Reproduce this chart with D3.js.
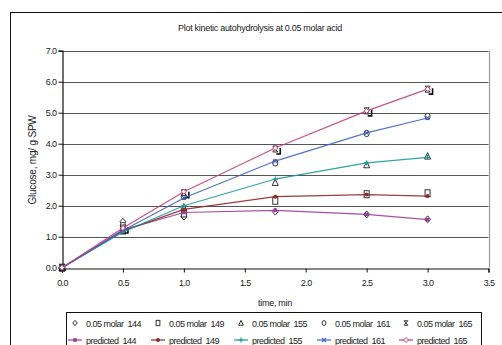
<!DOCTYPE html>
<html><head><meta charset="utf-8">
<script src="https://cdn.jsdelivr.net/npm/d3@7"></script>
<style>
body{margin:0;background:#fff;}
svg text{font-family:"Liberation Sans",Arial,sans-serif;fill:#222;}
</style></head>
<body><svg id="c" width="502" height="345"></svg>
<script>
const times = [0, 0.5, 1.0, 1.75, 2.5, 3.0];
const seriesNames = ["144", "149", "155", "161", "165"];
const observed144 = [0, 1.48, 1.65, 1.81, 1.72, 1.56];
const observed149 = [0, 1.2, 1.75, 2.16, 2.37, 2.4];
const observed155 = [0, 1.2, 1.95, 2.75, 3.32, 3.6];
const observed161 = [0, 1.36, 2.3, 3.38, 4.33, 4.88];
const observed165 = [0, 1.28, 2.42, 3.83, 5.06, 5.76];
const predicted144 = [0, 1.22, 1.78, 1.85, 1.72, 1.55];
const predicted149 = [0, 1.18, 1.88, 2.29, 2.36, 2.31];
const predicted155 = [0, 1.15, 2.0, 2.86, 3.38, 3.56];
const predicted161 = [0, 1.2, 2.25, 3.44, 4.35, 4.83];
const predicted165 = [0, 1.28, 2.45, 3.86, 5.06, 5.76];
const xTicks = [0, 0.5, 1.0, 1.5, 2.0, 2.5, 3.0, 3.5];
const yTicks = [0, 1, 2, 3, 4, 5, 6, 7];

const observed = [observed144, observed149, observed155, observed161, observed165];
const predicted = [predicted144, predicted149, predicted155, predicted161, predicted165];
const obsShapes = ["diamond", "square", "triangle", "circle", "cross"];
const predColors = ["#9a3d9a", "#8e2a2a", "#1a9a9a", "#3f63c4", "#c2407e"];
const predShapes = ["fsquare", "fdot", "plus", "xmark", "odiamond"];

const svg = d3.select("#c");
const x = d3.scaleLinear().domain([0, 3.5]).range([62, 488.5]);
const y = d3.scaleLinear().domain([0, 7]).range([267.7, 50.7]);

// outer border
svg.append("rect").attr("x", 10.5).attr("y", 12.5).attr("width", 520).attr("height", 360)
  .attr("fill", "none").attr("stroke", "#111").attr("stroke-width", 1);

// title
svg.append("text").attr("x", 260).attr("y", 31).attr("text-anchor", "middle")
  .attr("font-size", 9).attr("letter-spacing", -0.3)
  .text("Plot kinetic autohydrolysis at 0.05 molar acid");

// gridlines
svg.append("g").selectAll("line").data(yTicks.filter(d => d > 0)).join("line")
  .attr("x1", x(0)).attr("x2", x(3.5)).attr("y1", d => Math.round(y(d)) + 0.5).attr("y2", d => Math.round(y(d)) + 0.5)
  .attr("stroke", "#555").attr("stroke-width", 1);
// right border of plot
svg.append("line").attr("x1", Math.round(x(3.5)) + 0.5).attr("x2", Math.round(x(3.5)) + 0.5)
  .attr("y1", y(7)).attr("y2", y(0)).attr("stroke", "#999").attr("stroke-width", 1.2);

// axes
const yAxis = d3.axisLeft(y).tickValues(yTicks).tickFormat(d3.format(".1f")).tickSize(4).tickPadding(2);
const gy = svg.append("g").attr("transform", `translate(${Math.round(x(0)) + 0.5},0)`).call(yAxis);
const xAxis = d3.axisBottom(x).tickValues(xTicks).tickFormat(d3.format(".1f")).tickSize(4).tickPadding(7);
const gx = svg.append("g").attr("transform", `translate(0,${Math.round(y(0)) + 0.5})`).call(xAxis);
[gx, gy].forEach(g => {
  g.select(".domain").attr("stroke", "#111").attr("stroke-width", 1.2);
  g.selectAll(".tick line").attr("stroke", "#111");
  g.selectAll("text").attr("font-size", 9).attr("letter-spacing", -0.6).attr("fill", "#333")
    .style("font-family", '"Liberation Sans",Arial,sans-serif');
});

// axis labels
svg.append("text").attr("x", 275).attr("y", 306).attr("text-anchor", "middle")
  .attr("font-size", 9).attr("letter-spacing", -0.3).text("time, min");
svg.append("text").attr("transform", "translate(36,160) rotate(-90)").attr("text-anchor", "middle")
  .attr("font-size", 10).attr("letter-spacing", -0.2).text("Glucose, mg/ g SPW");

// marker drawing helper
function marker(g, shape, cx, cy, color, s) {
  s = s || 1;
  const k = g.append("g").attr("transform", `translate(${cx},${cy})`);
  switch (shape) {
    case "diamond":
      k.append("path").attr("d", `M0,${-3.5*s}L${3*s},0L0,${3.5*s}L${-3*s},0Z`).attr("fill", "#fff").attr("stroke", color).attr("stroke-width", 1); break;
    case "square":
      k.append("rect").attr("x", -2.5*s).attr("y", -3.5*s).attr("width", 5*s).attr("height", 7*s).attr("fill", "#fff").attr("stroke", color).attr("stroke-width", 1); break;
    case "triangle":
      k.append("path").attr("d", `M0,${-3.5*s}L${3*s},${3*s}L${-3*s},${3*s}Z`).attr("fill", "#fff").attr("stroke", color).attr("stroke-width", 1); break;
    case "circle":
      k.append("ellipse").attr("rx", 2.6*s).attr("ry", 3.2*s).attr("fill", "#fff").attr("stroke", color).attr("stroke-width", 1); break;
    case "cross":
      k.append("path").attr("d", `M${-2.5*s},${-3*s}L${2.5*s},${3*s}M${2.5*s},${-3*s}L${-2.5*s},${3*s}M${-2.5*s},${-3*s}H${2.5*s}M${-2.5*s},${3*s}H${2.5*s}`).attr("fill", "none").attr("stroke", color).attr("stroke-width", 1); break;
    case "fsquare":
      k.append("rect").attr("x", -1.8).attr("y", -1.8).attr("width", 3.6).attr("height", 3.6).attr("fill", color); break;
    case "fdot":
      k.append("circle").attr("r", 2).attr("fill", color); break;
    case "plus":
      k.append("path").attr("d", "M-2.5,0H2.5M0,-2.5V2.5").attr("stroke", color).attr("stroke-width", 1.2); break;
    case "xmark":
      k.append("path").attr("d", "M-2,-2L2,2M2,-2L-2,2").attr("stroke", color).attr("stroke-width", 1.1); break;
    case "odiamond":
      k.append("path").attr("d", "M0,-2.5L2.5,0L0,2.5L-2.5,0Z").attr("fill", "#fff").attr("stroke", color).attr("stroke-width", 1); break;
  }
  return k;
}

// observed markers
const gObs = svg.append("g");
observed.forEach((vals, i) => {
  vals.forEach((v, j) => {
    marker(gObs, obsShapes[i], x(times[j]), y(v), "#333", 1);
    if (i === 4 && j > 0) {
      gObs.append("path").attr("d", `M${x(times[j]) + 5},${y(v) - 1}V${y(v) + 5}H${x(times[j]) + 1}`)
        .attr("fill", "none").attr("stroke", "#111").attr("stroke-width", 1.6);
    }
  });
});
svg.append("rect").attr("x", x(0) - 3).attr("y", y(0) + 1).attr("width", 7).attr("height", 2).attr("fill", "#111");

// predicted lines
const line = d3.line().x((d, j) => x(times[j])).y(d => y(d));
const gPred = svg.append("g");
predicted.forEach((vals, i) => {
  gPred.append("path").datum(vals).attr("d", line).attr("fill", "none")
    .attr("stroke", predColors[i]).attr("stroke-width", 1.2).attr("opacity", 0.9);
  vals.forEach((v, j) => marker(gPred, predShapes[i], x(times[j]), y(v), predColors[i]));
});

// legend
const lg = svg.append("g");
lg.append("rect").attr("x", 66.5).attr("y", 312.5).attr("width", 415).attr("height", 60)
  .attr("fill", "#fff").attr("stroke", "#111").attr("stroke-width", 1);
const colX = [67, 150, 233, 316, 398];
seriesNames.forEach((n, i) => {
  marker(lg, obsShapes[i], colX[i] + 8, 323, "#333", 0.75);
  lg.append("text").attr("x", colX[i] + 19).attr("y", 326.5).attr("font-size", 9).attr("letter-spacing", -0.5)
    .attr("xml:space", "preserve").text("0.05 molar  " + n);
  lg.append("line").attr("x1", colX[i] + 1).attr("x2", colX[i] + 15).attr("y1", 340).attr("y2", 340)
    .attr("stroke", predColors[i]).attr("stroke-width", 1.2);
  marker(lg, predShapes[i], colX[i] + 8, 340, predColors[i]);
  lg.append("text").attr("x", colX[i] + 19).attr("y", 343.5).attr("font-size", 9).attr("letter-spacing", -0.5)
    .attr("xml:space", "preserve").text("predicted  " + n);
});
</script></body></html>
